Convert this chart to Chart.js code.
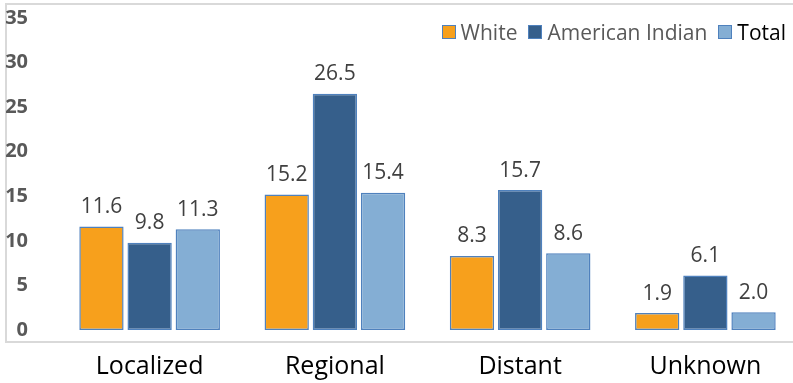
<!DOCTYPE html>
<html>
<head>
<meta charset="utf-8">
<script src="https://cdn.jsdelivr.net/npm/chart.js@4/dist/chart.umd.min.js"></script>
<style>
  html, body { margin: 0; padding: 0; background: #fff; overflow: hidden; }
  #wrap { position: relative; width: 793px; height: 383px; overflow: hidden; }
  #frame { position: absolute; left: 5px; top: 3px; width: 900px; height: 340px; border: 2px solid #d9d9d9; box-sizing: border-box; }
  #wrap canvas { position: absolute; left: 0; top: 0; }
  #legend { position: absolute; right: 7px; top: 18px; display: flex; align-items: center; font: 21px 'Open Sans', 'Liberation Sans', sans-serif; color: #595959; z-index: 2; }
  #legend span.item { display: flex; align-items: center; margin-left: 11px; }
  #legend span.box { display: inline-block; width: 12px; height: 12px; border: 1.5px solid #4f81bd; margin-right: 5px; }
</style>
</head>
<body>
<div id="wrap">
  <div id="frame"></div>
  <canvas id="chart" width="800" height="383"></canvas>
  <div id="legend"></div>
</div>
<script>
  // chart data
  const categories = ["Localized", "Regional", "Distant", "Unknown"];
  const white = [11.6, 15.2, 8.3, 1.9];
  const americanIndian = [9.8, 26.5, 15.7, 6.1];
  const total = [11.3, 15.4, 8.6, 2.0];
  const yTicks = [0, 5, 10, 15, 20, 25, 30, 35];

  const FONT = "'Open Sans', 'Liberation Sans', sans-serif";
  const barBorder = "#4f81bd";

  // draws the value above every bar
  const valueLabels = {
    id: "valueLabels",
    afterDatasetsDraw(chart) {
      const ctx = chart.ctx;
      ctx.save();
      ctx.font = "21px " + FONT;
      ctx.fillStyle = "#404040";
      ctx.textAlign = "center";
      ctx.textBaseline = "bottom";
      chart.data.datasets.forEach((ds, i) => {
        chart.getDatasetMeta(i).data.forEach((bar, j) => {
          ctx.fillText(ds.data[j].toFixed(1), bar.x, bar.y - 9);
        });
      });
      ctx.restore();
    }
  };

  const makeSet = (label, data, color) => ({
    label,
    data,
    backgroundColor: color,
    borderColor: barBorder,
    borderWidth: 1.5,
    borderSkipped: false,
    categoryPercentage: 0.78,
    barPercentage: 0.92
  });

  const chart = new Chart(document.getElementById("chart"), {
    type: "bar",
    data: {
      labels: categories,
      datasets: [
        makeSet("White", white, "#f7a01c"),
        makeSet("American Indian", americanIndian, "#365f8b"),
        makeSet("Total", total, "#84aed4")
      ]
    },
    plugins: [valueLabels],
    options: {
      responsive: false,
      animation: false,
      layout: { padding: { top: 18, bottom: 3, left: 0, right: 2 } },
      plugins: {
        tooltip: { enabled: false },
        legend: { display: false }
      },
      scales: {
        x: {
          afterFit(scale) { scale.height = 50; },
          grid: { display: false },
          border: { display: false },
          ticks: {
            padding: 14,
            color: "#000000",
            font: { family: FONT, size: 25 }
          }
        },
        y: {
          min: 0,
          max: 35,
          afterBuildTicks(scale) {
            scale.ticks = yTicks.map(v => ({ value: v }));
          },
          afterFit(scale) {
            scale.width = 57;
            scale.paddingTop = 0;
            scale.paddingBottom = 0;
          },
          grid: { display: false },
          border: { display: false },
          ticks: {
            padding: 21,
            color: "#595959",
            font: { family: FONT, size: 20, weight: "bold" }
          }
        }
      }
    }
  });

  // html legend built from the datasets
  const legend = document.getElementById("legend");
  chart.data.datasets.forEach(ds => {
    const item = document.createElement("span");
    item.className = "item";
    const box = document.createElement("span");
    box.className = "box";
    box.style.background = ds.backgroundColor;
    item.appendChild(box);
    const txt = document.createElement("span");
    txt.textContent = ds.label;
    if (ds.label === "Total") txt.style.color = "#000";
    item.appendChild(txt);
    legend.appendChild(item);
  });
</script>
</body>
</html>
